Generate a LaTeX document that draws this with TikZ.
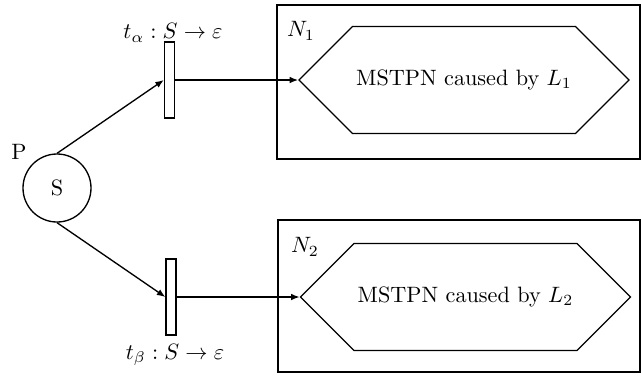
\documentclass[tikz,border=0pt]{standalone}
\usepackage{amsmath, amssymb}
\usetikzlibrary{arrows.meta, positioning, shapes.symbols}

\begin{document}
\begin{tikzpicture}[
  x=0.45pt, y=-0.45pt,
  >={Latex[length=3.8pt, width=3pt]},
  every path/.style={line width=0.6pt},
  place/.style={draw, circle, minimum size=30.6pt, inner sep=0pt},
  trans/.style={draw, rectangle, minimum width=4.5pt, minimum height=34.2pt, inner sep=0pt},
  net/.style={draw, rectangle, inner sep=0pt},
  hexa/.style={draw, shape=signal, signal to=west and east, signal pointer angle=90,
               minimum width=148.5pt, minimum height=48.2pt, inner sep=0pt},
]
\useasboundingbox (0,0) rectangle (641,375);

% the two subnets
\node[net, minimum width=163.3pt, minimum height=69.3pt] (B1) at (458.5,82) {};
\node[net, minimum width=162.9pt, minimum height=68.4pt] (B2) at (459,296) {};
\node (N1) at (301,31) {$N_1$};
\node (N2) at (305,247) {$N_2$};

\node[hexa] (H1) at (464,80) {MSTPN caused by $L_1$};
\node[hexa] (H2) at (465.5,297) {MSTPN caused by $L_2$};

% place and transitions
\node[place] (P) at (57,188) {S};
\node (Plab) at (19,152) {P};

\node[trans] (ta) at (169.5,80) {};
\node[trans] (tb) at (171,297) {};
\node (talab) at (173,33) {$t_\alpha : S \to \varepsilon$};
\node (tblab) at (175,355) {$t_\beta : S \to \varepsilon$};

\draw[->] (P.north) -- (ta.west);
\draw[->] (P.south) -- (tb.west);
\draw[->] (ta.east) -- (H1.west);
\draw[->] (tb.east) -- (H2.west);
\end{tikzpicture}
\end{document}
